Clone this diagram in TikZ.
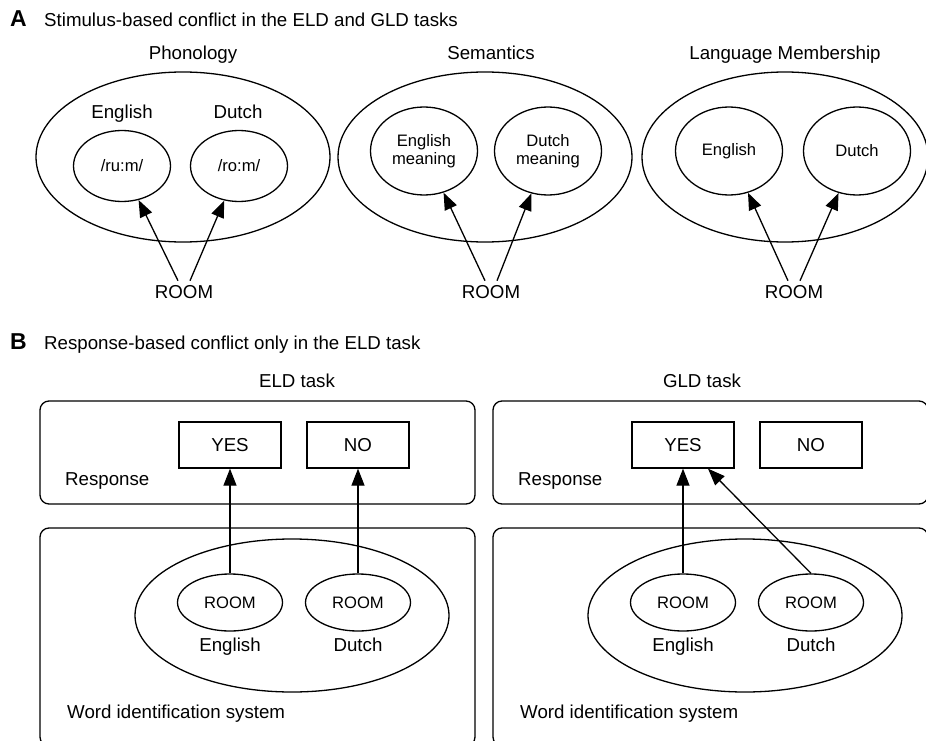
\documentclass[tikz,border=0pt]{standalone}
\usepackage{fontspec}
\setmainfont{Liberation Sans}
\usepackage{tikz}
\usetikzlibrary{shapes.geometric}
\usetikzlibrary{arrows.meta}
\tikzstyle{bigoval}=[ellipse,draw,line width=1.3pt,inner sep=0pt,minimum height=170pt]
\tikzstyle{oval}=[ellipse,draw,line width=1.3pt,inner sep=0pt,align=center,font=\fontsize{16.6}{18}\selectfont]
\tikzstyle{caption}=[font=\fontsize{18.7}{22}\selectfont,anchor=base,inner sep=4pt]
\tikzstyle{panelletter}=[font=\fontsize{23}{26}\selectfont\bfseries,anchor=base west,inner sep=0pt]
\tikzstyle{panelbox}=[draw,line width=1.3pt,rounded corners=9pt,inner sep=0pt,minimum width=435pt]
\tikzstyle{answer}=[draw,line width=1.3pt,inner sep=0pt,minimum width=102pt,minimum height=46pt,font=\fontsize{18.7}{22}\selectfont]
\tikzstyle{arrowedge}=[draw,line width=1.3pt,-{Triangle[length=17pt,width=13pt]}]

\begin{document}
\begin{tikzpicture}[x=1pt,y=-1pt]
    \clip (0,0) rectangle (926,741);

    % panel A: stimulus-based conflict
    \node[panelletter] (letA) at (10,27) {A};
    \node[caption,anchor=base west,inner sep=0pt] (titleA) at (44,27) {Stimulus-based conflict in the ELD and GLD tasks};

    \node[bigoval,minimum width=294pt] (phon) at (183,157) {};
    \node[bigoval,minimum width=294pt] (sem) at (485,157) {};
    \node[bigoval,minimum width=286pt] (mem) at (785,157) {};
    \node[caption] (phonlab) at (193,60) {Phonology};
    \node[caption] (semlab) at (491,60) {Semantics};
    \node[caption] (memlab) at (785,60) {Language Membership};

    %phonology
    \node[oval,minimum width=97pt,minimum height=71pt] (phonen) at (122,166) {/ru:m/};
    \node[oval,minimum width=97pt,minimum height=71pt] (phonnl) at (239,166) {/ro:m/};
    \node[caption] (phonenlab) at (122,119) {English};
    \node[caption] (phonnllab) at (238,119) {Dutch};

    %semantics
    \node[oval,minimum width=107pt,minimum height=88pt] (semen) at (424,151) {English\\meaning};
    \node[oval,minimum width=107pt,minimum height=88pt] (semnl) at (548,151) {Dutch\\meaning};

    %language membership
    \node[oval,minimum width=107pt,minimum height=88pt] (memen) at (729,151) {English};
    \node[oval,minimum width=107pt,minimum height=88pt] (memnl) at (857,151) {Dutch};

    \foreach \pos/\name in {{(184,298)/phonroom}, {(491,298)/semroom}, {(794,298)/memroom}}
        \node[caption] (\name) at \pos {ROOM};
    \foreach \source/\desta/\destb in {phonroom/phonen/phonnl, semroom/semen/semnl, memroom/memen/memnl}
    {
        \path[arrowedge] ([xshift=-6pt]\source.north) -- (\desta);
        \path[arrowedge] ([xshift=6pt]\source.north) -- (\destb);
    }

    % panel B: response-based conflict
    \node[panelletter] (letB) at (10,349) {B};
    \node[caption,anchor=base west,inner sep=0pt] (titleB) at (44,349) {Response-based conflict only in the ELD task};

    \foreach \dx/\name/\tasklab/\tx in {0/eld/ELD task/297, 453/gld/GLD task/702}
    {
        \node[caption] (\name task) at (\tx,387) {\tasklab};
        \node[panelbox,minimum height=103pt] (\name resp) at (257.5+\dx,452.5) {};
        \node[panelbox,minimum height=218pt] (\name word) at (257.5+\dx,637) {};
        \node[answer] (\name yes) at (230+\dx,445) {YES};
        \node[answer] (\name no) at (358+\dx,445) {NO};
        \node[caption,anchor=base west,inner sep=0pt] (\name resplab) at (65+\dx,485) {Response};
        \node[bigoval,minimum width=314pt,minimum height=153pt] (\name lex) at (292+\dx,615.5) {};
        \node[oval,minimum width=105pt,minimum height=57pt] (\name en) at (230+\dx,602.5) {ROOM};
        \node[oval,minimum width=105pt,minimum height=57pt] (\name nl) at (358+\dx,602.5) {ROOM};
        \node[caption] (\name enlab) at (230+\dx,651) {English};
        \node[caption] (\name nllab) at (358+\dx,651) {Dutch};
        \node[caption,anchor=base west,inner sep=0pt] (\name wordlab) at (67+\dx,718) {Word identification system};
    }

    \path[arrowedge] (elden.north) -- (eldyes.south);
    \path[arrowedge] (eldnl.north) -- (eldno.south);
    \path[arrowedge] (glden.north) -- (gldyes.south);
    \path[arrowedge] (gldnl.north) -- ([xshift=25pt]gldyes.south);
\end{tikzpicture}
\end{document}
